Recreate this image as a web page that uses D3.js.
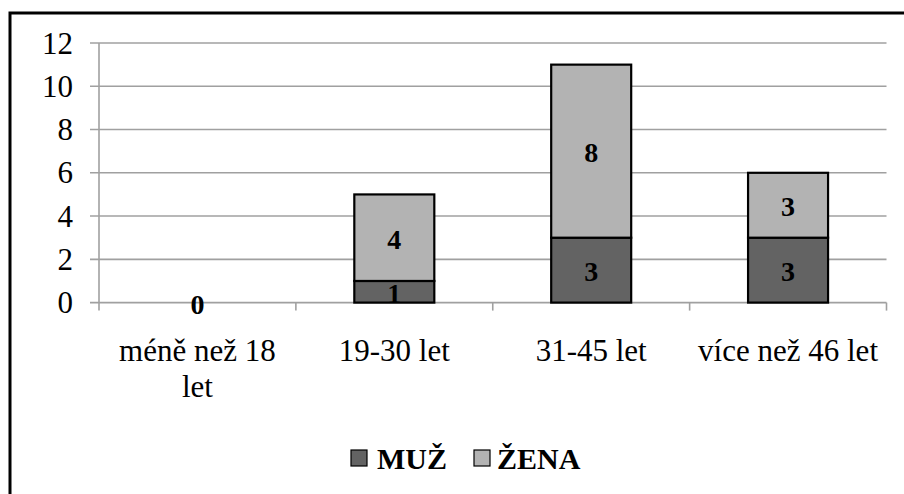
<!DOCTYPE html>
<html><head><meta charset="utf-8">
<script src="https://cdn.jsdelivr.net/npm/d3@7/dist/d3.min.js"></script>
<style>body{margin:0;background:#fff}svg{display:block}</style>
</head><body><svg id="c" width="904" height="494"></svg>
<script>
const categories = [["méně než 18","let"],["19-30 let"],["31-45 let"],["více než 46 let"]];
const seriesNames = ["MUŽ","ŽENA"];
const muz = [0,1,3,3];
const zena = [0,4,8,3];
const yTicks = [0,2,4,6,8,10,12];
const colors = ["#636363","#b3b3b3"];

const FF = "Liberation Serif";
const svg = d3.select("#c");
svg.append("rect").attr("x",10).attr("y",13).attr("width",910).attr("height",500)
  .attr("fill","#fff").attr("stroke","#000").attr("stroke-width",3);

const x0=99, x1=886.5, yTop=43, yBot=302.6;
const idx = categories.map((d,i)=>i);
const x = d3.scaleBand().domain(idx).range([x0,x1]).paddingInner(0).paddingOuter(0);
const y = d3.scaleLinear().domain([0,12]).range([yBot,yTop]);

svg.append("g").selectAll("line").data(yTicks).join("line")
  .attr("x1",90).attr("x2",x1).attr("y1",d=>y(d)).attr("y2",d=>y(d))
  .attr("stroke","#a0a0a0").attr("stroke-width",1.6);
svg.append("line").attr("x1",x0).attr("x2",x0).attr("y1",yTop).attr("y2",yBot)
  .attr("stroke","#a0a0a0").attr("stroke-width",1.6);
const xt = idx.map(i=>x(i)).concat([x1]);
svg.append("g").selectAll("line").data(xt).join("line")
  .attr("x1",d=>d).attr("x2",d=>d).attr("y1",yBot).attr("y2",yBot+8)
  .attr("stroke","#a0a0a0").attr("stroke-width",1.6);

function txt(sel){ return sel.attr("font-family",FF).style("font-family",FF); }

txt(svg.append("g").selectAll("text").data(yTicks).join("text"))
  .attr("x",73).attr("y",d=>y(d)+10.5).attr("text-anchor","end")
  .attr("font-size",31).text(d=>String(d));

const stack = d3.stack().keys([0,1]).value((d,k)=>k===0?muz[d]:zena[d])(idx);
const bw = 80;
stack.forEach((layer,si)=>{
  svg.append("g").selectAll("rect").data(layer.filter(d=>d[1]-d[0]>0)).join("rect")
    .attr("x",d=>x(d.data)+x.bandwidth()/2-bw/2).attr("width",bw)
    .attr("y",d=>y(d[1])).attr("height",d=>y(d[0])-y(d[1]))
    .attr("fill",colors[si]).attr("stroke","#000").attr("stroke-width",2.2);
});
stack.forEach((layer,si)=>{
  txt(svg.append("g").selectAll("text").data(layer.filter(d=>si===0 || d[1]-d[0]>0)).join("text"))
    .attr("x",d=>x(d.data)+x.bandwidth()/2).attr("y",d=>(y(d[0])+y(d[1]))/2+11)
    .attr("text-anchor","middle")
    .attr("font-size",28).attr("font-weight","bold")
    .text(d=>String(d[1]-d[0]));
});
idx.forEach(i=>{
  categories[i].forEach((line,j)=>{
    txt(svg.append("text")).attr("x",x(i)+x.bandwidth()/2).attr("y",361+j*36)
      .attr("text-anchor","middle").attr("font-size",31).text(line);
  });
});

const lg = [{n:seriesNames[0],c:colors[0],sx:351,tx:377},{n:seriesNames[1],c:colors[1],sx:474,tx:497}];
lg.forEach(d=>{
  svg.append("rect").attr("x",d.sx).attr("y",450).attr("width",16).attr("height",16)
    .attr("fill",d.c).attr("stroke","#000").attr("stroke-width",1.2);
  txt(svg.append("text")).attr("x",d.tx).attr("y",469)
    .attr("font-size",30).attr("font-weight","bold").text(d.n);
});
</script></body></html>
